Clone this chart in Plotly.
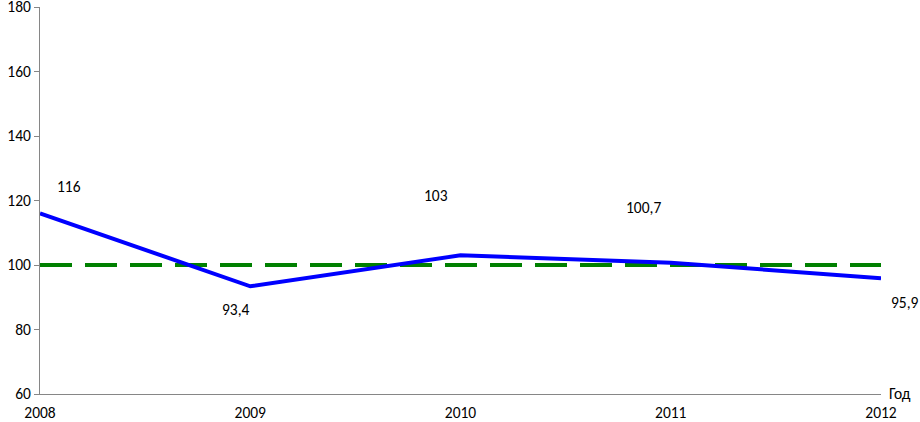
import plotly.graph_objects as go

years = [2008, 2009, 2010, 2011, 2012]
values = [116, 93.4, 103, 100.7, 95.9]
value_labels = ["116", "93,4", "103", "100,7", "95,9"]
baseline = [100, 100, 100, 100, 100]
y_ticks = [60, 80, 100, 120, 140, 160, 180]

# label offsets in pixels (dx, dy)
label_offsets = [(29, 27), (-14, -23), (-25, 60), (-27, 55), (24, -24)]

font = dict(family="Carlito, Open Sans, Liberation Sans, sans-serif", size=15.5, color="#000000")

fig = go.Figure()
fig.add_trace(go.Scatter(x=years, y=baseline, mode="lines",
                         line=dict(color="#008000", width=4, dash="32px,13px"),
                         hoverinfo="skip", showlegend=False))
fig.add_trace(go.Scatter(x=years, y=values, mode="lines",
                         line=dict(color="#0000FF", width=4),
                         showlegend=False))

for x, y, t, (dx, dy) in zip(years, values, value_labels, label_offsets):
    fig.add_annotation(x=x, y=y, text=t, showarrow=False, xshift=dx, yshift=dy,
                       font=font)

fig.add_annotation(x=1, y=0, xref="paper", yref="paper", text="Год", showarrow=False,
                   xanchor="left", yanchor="middle", xshift=6, yshift=1, font=font)

fig.update_layout(
    width=920, height=422,
    margin=dict(l=40, r=39, t=7, b=28),
    paper_bgcolor="white", plot_bgcolor="white",
    font=font,
)
fig.update_xaxes(range=[2008, 2012], tickvals=years, ticktext=[str(y) for y in years],
                 showgrid=False, zeroline=False, showline=True, linecolor="#868686",
                 linewidth=1, ticks="outside", ticklen=4, tickcolor="rgba(0,0,0,0)",
                 tickfont=font, automargin=False, ticklabeloverflow="allow")
fig.update_yaxes(range=[60, 180], tickvals=y_ticks, showgrid=False, zeroline=False,
                 showline=True, linecolor="#868686", linewidth=1, ticks="outside",
                 ticklen=5, tickcolor="#868686", tickfont=font, automargin=False,
                 ticklabeloverflow="allow")

fig.write_html("out.html", config={"displayModeBar": False},
               post_script="document.body.style.margin='0';document.body.style.overflow='hidden';")
